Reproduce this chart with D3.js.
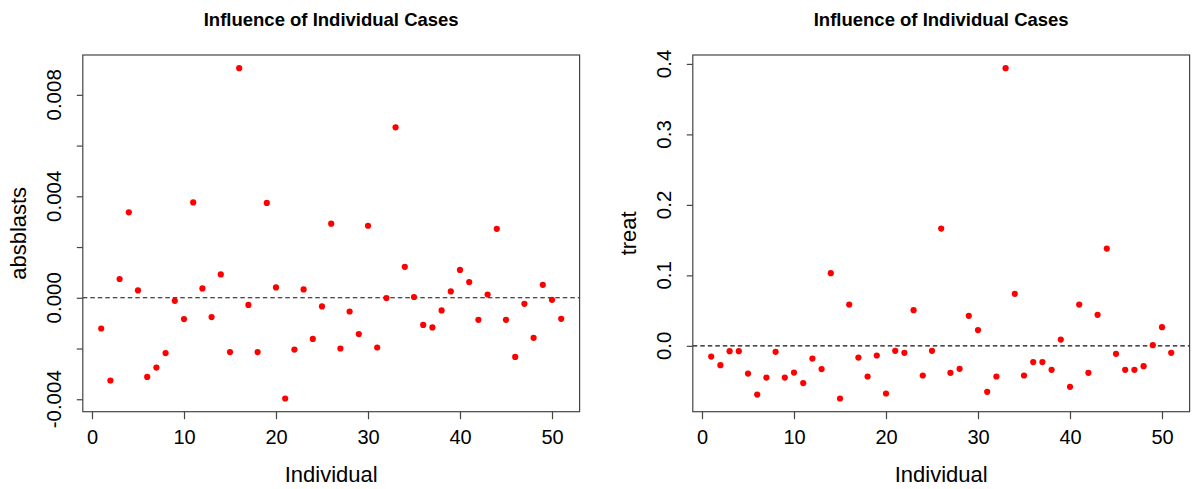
<!DOCTYPE html>
<html>
<head>
<meta charset="utf-8">
<script src="https://cdn.jsdelivr.net/npm/d3@7"></script>
<style>
  html, body { margin: 0; padding: 0; background: #fff; }
  svg { display: block; }
  text { font-family: "Liberation Sans", Arial, sans-serif; fill: #000; }
</style>
</head>
<body>
<svg id="chart" width="1192" height="489"></svg>
<script>
// ---------- data ----------
const individuals = [1,2,3,4,5,6,7,8,9,10,11,12,13,14,15,16,17,18,19,20,21,22,23,24,25,
  26,27,28,29,30,31,32,33,34,35,36,37,38,39,40,41,42,43,44,45,46,47,48,49,50,51];

const absblasts = [-0.00121,-0.00326,0.00074,0.00337,0.00029,-0.00312,-0.00275,-0.00218,-0.00012,-0.00084,
  0.00376,0.00037,-0.00076,0.00092,-0.00214,0.00905,-0.00028,-0.00214,0.00374,0.00041,
  -0.00397,-0.00204,0.00033,-0.00162,-0.00034,0.00292,-0.00200,-0.00054,-0.00143,0.00284,
  -0.00196,-0.00001,0.00672,0.00122,0.00003,-0.00107,-0.00117,-0.00050,0.00025,0.00110,
  0.00062,-0.00087,0.00013,0.00272,-0.00087,-0.00233,-0.00024,-0.00158,0.00051,-0.00008,-0.00083];

const treat = [-0.0152,-0.0274,-0.0075,-0.0075,-0.0393,-0.0691,-0.0450,-0.0085,-0.0450,-0.0379,
  -0.0529,-0.0180,-0.0330,0.1031,-0.0747,0.0586,-0.0166,-0.0435,-0.0137,-0.0676,
  -0.0071,-0.0099,0.0506,-0.0421,-0.0071,0.1664,-0.0383,-0.0326,0.0426,0.0223,
  -0.0652,-0.0435,0.3939,0.0738,-0.0421,-0.0231,-0.0231,-0.0340,0.0089,-0.0582,
  0.0586,-0.0383,0.0440,0.1380,-0.0113,-0.0340,-0.0340,-0.0288,0.0010,0.0265,-0.0099];

const xTicks = [0,10,20,30,40,50];
const xTickLabels = ["0","10","20","30","40","50"];

const absYTicks = [-0.004,-0.002,0,0.002,0.004,0.006,0.008];
const absYLabelled = [-0.004,0,0.004,0.008];
const absYTickLabels = ["-0.004","0.000","0.004","0.008"];

const treatYTicks = [0,0.1,0.2,0.3,0.4];
const treatYLabelled = [0,0.1,0.2,0.3,0.4];
const treatYTickLabels = ["0.0","0.1","0.2","0.3","0.4"];

const titleText = "Influence of Individual Cases";
const xLabel = "Individual";

// ---------- drawing ----------
const svg = d3.select("#chart");

function panel(opts) {
  const {left, right, top, bottom, values, yTicks, yLabelled, yLabels, yName} = opts;
  const g = svg.append("g");

  const x = d3.scaleLinear().domain([-1, 53]).range([left, right]);
  const vmin = d3.min(values), vmax = d3.max(values);
  const ext = (vmax - vmin) * 0.04;
  const y = d3.scaleLinear().domain([vmin - ext, vmax + ext]).range([bottom, top]);

  // dashed zero line
  g.append("line")
    .attr("x1", left).attr("x2", right)
    .attr("y1", y(0)).attr("y2", y(0))
    .attr("stroke", "#111").attr("stroke-width", 1.1)
    .attr("stroke-dasharray", "4.5,3");

  // points
  g.selectAll("circle.pt").data(individuals)
    .enter().append("circle")
    .attr("class", "pt")
    .attr("cx", d => x(d))
    .attr("cy", (d, i) => y(values[i]))
    .attr("r", 3.1)
    .attr("fill", "#ff0000");

  // box
  g.append("rect")
    .attr("x", left).attr("y", top)
    .attr("width", right - left).attr("height", bottom - top)
    .attr("fill", "none").attr("stroke", "#444").attr("stroke-width", 1.2);

  // x axis
  const xAxis = d3.axisBottom(x)
    .tickValues(xTicks)
    .tickFormat((d, i) => xTickLabels[i])
    .tickSizeInner(7.5).tickSizeOuter(0).tickPadding(14);
  const xa = g.append("g").attr("transform", `translate(0,${bottom})`).call(xAxis);
  xa.select(".domain").remove();
  xa.selectAll(".tick line").attr("stroke", "#444").attr("stroke-width", 1.2);
  xa.selectAll(".tick text")
    .attr("font-size", 20).attr("font-family", "Liberation Sans, Arial, sans-serif")
    .attr("fill", "#000").attr("dy", null).attr("y", 32);

  // y axis ticks
  const yAxis = d3.axisLeft(y)
    .tickValues(yTicks)
    .tickFormat("")
    .tickSizeInner(6).tickSizeOuter(0);
  const ya = g.append("g").attr("transform", `translate(${left},0)`).call(yAxis);
  ya.select(".domain").remove();
  ya.selectAll(".tick line").attr("stroke", "#444").attr("stroke-width", 1.2);

  // y tick labels (rotated, like R)
  g.selectAll("text.ylab").data(yLabelled)
    .enter().append("text")
    .attr("class", "ylab")
    .attr("transform", d => `translate(${left - 22},${y(d)}) rotate(-90)`)
    .attr("text-anchor", "middle")
    .attr("font-size", 20.5)
    .text((d, i) => yLabels[i]);

  // title
  g.append("text")
    .attr("x", (left + right) / 2).attr("y", 25.7)
    .attr("text-anchor", "middle")
    .attr("font-size", 18.5).attr("font-weight", "bold")
    .text(titleText);

  // x label
  g.append("text")
    .attr("x", (left + right) / 2).attr("y", 481.5)
    .attr("text-anchor", "middle")
    .attr("font-size", 22)
    .text(xLabel);

  // y label
  g.append("text")
    .attr("transform", `translate(${left - 57},${(top + bottom) / 2}) rotate(-90)`)
    .attr("text-anchor", "middle")
    .attr("font-size", 22)
    .text(yName);
}

panel({left: 82.8, right: 579.6, top: 55, bottom: 411.7,
  values: absblasts, yTicks: absYTicks, yLabelled: absYLabelled, yLabels: absYTickLabels, yName: "absblasts"});

panel({left: 692.8, right: 1189.6, top: 55, bottom: 411.7,
  values: treat, yTicks: treatYTicks, yLabelled: treatYLabelled, yLabels: treatYTickLabels, yName: "treat"});
</script>
</body>
</html>
